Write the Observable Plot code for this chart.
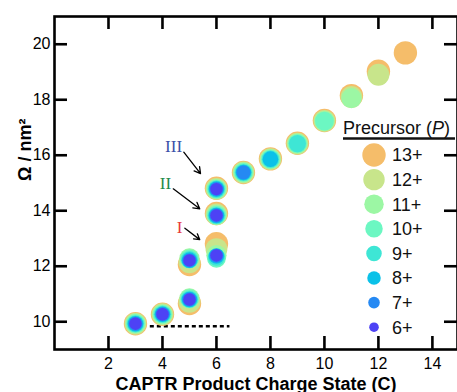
<!DOCTYPE html>
<html><head><meta charset="utf-8">
<script src="https://cdn.jsdelivr.net/npm/d3@7"></script>
<script src="https://cdn.jsdelivr.net/npm/@observablehq/plot@0.6"></script>
<style>
body{margin:0;background:#fff;}
#wrap{position:relative;width:457px;height:392px;overflow:hidden;font-family:"Liberation Sans",Arial,sans-serif;}
#wrap svg{position:absolute;left:0;top:0;}
</style></head><body><div id="wrap"></div>
<script>
// Precursor charge states and their colours
const precursors = [13, 12, 11, 10, 9, 8, 7, 6];
const precursorLabels = ["13+", "12+", "11+", "10+", "9+", "8+", "7+", "6+"];
const precursorColors = ["#F5BD6A", "#C8E58B", "#9CF7A4", "#6CF7C2", "#3EE6D5", "#0BC1E8", "#2589F3", "#4D42F5"];

// Data: CAPTR product charge state, precursor, collision cross section (nm^2)
const chargeState = [
  3,3,3,3,3,3,3,3,
  4,4,4,4,4,4,4,4,
  5,5,5,5,5,5,5,5,
  5,5,5,5,5,5,5,5,
  6,6,6,6,6,6,6,6,
  6,6,6,6,6,6,6,6,
  6,6,6,6,6,6,6,6,
  7,7,7,7,7,7,7,
  8,8,8,8,8,8,
  9,9,9,9,9,
  10,10,10,10,
  11,11,11,
  12,12,
  13
];
const precursor = [
  13,12,11,10,9,8,7,6,
  13,12,11,10,9,8,7,6,
  13,12,11,10,9,8,7,6,
  13,12,11,10,9,8,7,6,
  13,12,11,10,9,8,7,6,
  13,12,11,10,9,8,7,6,
  13,12,11,10,9,8,7,6,
  13,12,11,10,9,8,7,
  13,12,11,10,9,8,
  13,12,11,10,9,
  13,12,11,10,
  13,12,11,
  13,12,
  13
];
const omega = [
  9.93,9.93,9.93,9.93,9.93,9.93,9.93,9.93,
  10.27,10.27,10.27,10.27,10.27,10.27,10.27,10.27,
  10.66,10.72,10.84,10.83,10.81,10.80,10.80,10.80,
  12.06,12.14,12.28,12.27,12.24,12.22,12.21,12.21,
  12.81,12.62,12.40,12.28,12.33,12.37,12.38,12.39,
  13.90,13.87,13.85,13.84,13.83,13.83,13.83,13.83,
  14.81,14.79,14.78,14.78,14.78,14.78,14.78,14.78,
  15.38,15.38,15.38,15.38,15.38,15.38,15.38,
  15.87,15.86,15.86,15.86,15.86,15.86,
  16.43,16.42,16.42,16.42,16.42,
  17.25,17.24,17.23,17.23,
  18.15,18.10,18.06,
  19.03,18.90,
  19.69
];

const xTicks = [2, 4, 6, 8, 10, 12, 14];
const yTicks = [10, 12, 14, 16, 18, 20];

// Dotted reference line
const dashC = [3.55, 6.5];
const dashOmega = [9.84];

// Conformer annotations (label, colour, label position, arrow start/end)
const annLabels = ["III", "II", "I"];
const annColors = ["#3B50A8", "#1E8A4C", "#E8393C"];
const annX = [4.41, 4.11, 4.63];
const annY = [16.33, 14.97, 13.41];
const arrX1 = [4.79, 4.40, 4.83];
const arrY1 = [16.11, 14.79, 13.37];
const arrX2 = [5.41, 5.38, 5.38];
const arrY2 = [15.34, 14.07, 12.96];

const points = chargeState.map((c, i) => ({c, p: precursor[i], o: omega[i]}))
  .sort((a, b) => b.p - a.p);
const ann = annLabels.map((t, i) => ({t, col: annColors[i], x: annX[i], y: annY[i], x1: arrX1[i], y1: arrY1[i], x2: arrX2[i], y2: arrY2[i]}));

const W = 457, H = 392, mL = 54, mR = 0, mT = 16, mB = 43;
const plotH = H - mT - mB, plotW = W - mL - mR;
const tick = 13;

const plot = Plot.plot({
  width: W, height: H,
  marginLeft: mL, marginRight: mR, marginTop: mT, marginBottom: mB,
  style: {fontFamily: '"Liberation Sans", Arial, sans-serif', background: "white"},
  x: {domain: [0, 14.93]},
  y: {domain: [9, 21]},
  r: {type: "linear", domain: [6, 13], range: [6.2, 11.7]},
  color: {domain: precursors, range: precursorColors},
  marks: [
    Plot.ruleY(dashOmega, {x1: dashC[0], x2: dashC[1], stroke: "black", strokeWidth: 2.6, strokeDasharray: "4,3"}),
    Plot.dot(points, {x: "c", y: "o", r: "p", fill: "p", stroke: "none"}),
    Plot.arrow(ann, {x1: "x1", y1: "y1", x2: "x2", y2: "y2", stroke: "black", strokeWidth: 1.3, headLength: 8}),
    Plot.text(ann, {x: "x", y: "y", text: "t", fill: "col", fontSize: 17, fontFamily: '"Liberation Serif", "Times New Roman", serif'}),
    Plot.frame({stroke: "black", strokeWidth: 2.6}),
    Plot.tickX(xTicks, {x: d => d, insetTop: plotH - tick, stroke: "black", strokeWidth: 2.6}),
    Plot.tickX(xTicks, {x: d => d, insetBottom: plotH - tick, stroke: "black", strokeWidth: 2.6}),
    Plot.tickY(yTicks, {y: d => d, insetRight: plotW - tick, stroke: "black", strokeWidth: 2.6}),
    Plot.tickY(yTicks, {y: d => d, insetLeft: plotW - tick, stroke: "black", strokeWidth: 2.6}),
    Plot.axisX(xTicks, {tickSize: 0, tickPadding: 8, fontSize: 16, label: null}),
    Plot.axisY(yTicks, {tickSize: 0, tickPadding: 4, fontSize: 16, label: null}),
    Plot.text(["CAPTR Product Charge State (C)"], {frameAnchor: "bottom", dy: 40, lineAnchor: "bottom", fontSize: 18, fontWeight: "bold"}),
    Plot.text(["Ω / nm²"], {frameAnchor: "left", dx: -24, dy: -2, rotate: -90, lineAnchor: "bottom", fontSize: 18, fontWeight: "bold"})
  ]
});

const wrap = document.getElementById("wrap");
wrap.appendChild(plot);

// Legend overlay
const rScale = plot.scale("r");
const legendR = d3.scaleLinear().domain(rScale.domain).range([4.8, 11.7]);
const svg = d3.select(wrap).append("svg").attr("width", W).attr("height", H)
  .style("font-family", '"Liberation Sans", Arial, sans-serif');
const title = svg.append("text").attr("x", 343).attr("y", 134).attr("font-size", 18).attr("fill", "#111");
title.append("tspan").text("Precursor (");
title.append("tspan").attr("font-style", "italic").text("P");
title.append("tspan").text(")");
svg.append("line").attr("x1", 343).attr("x2", 455).attr("y1", 138.5).attr("y2", 138.5)
  .attr("stroke", "#111").attr("stroke-width", 2.4);
const items = svg.selectAll("g.item").data(precursors).join("g")
  .attr("transform", (d, i) => `translate(374,${155 + i * 24.6})`);
items.append("circle").attr("r", d => legendR(d)).attr("fill", (d, i) => precursorColors[i]);
items.append("text").attr("x", 18).attr("dy", "0.36em").attr("font-size", 18).attr("fill", "#111")
  .text((d, i) => precursorLabels[i]);
</script></body></html>
